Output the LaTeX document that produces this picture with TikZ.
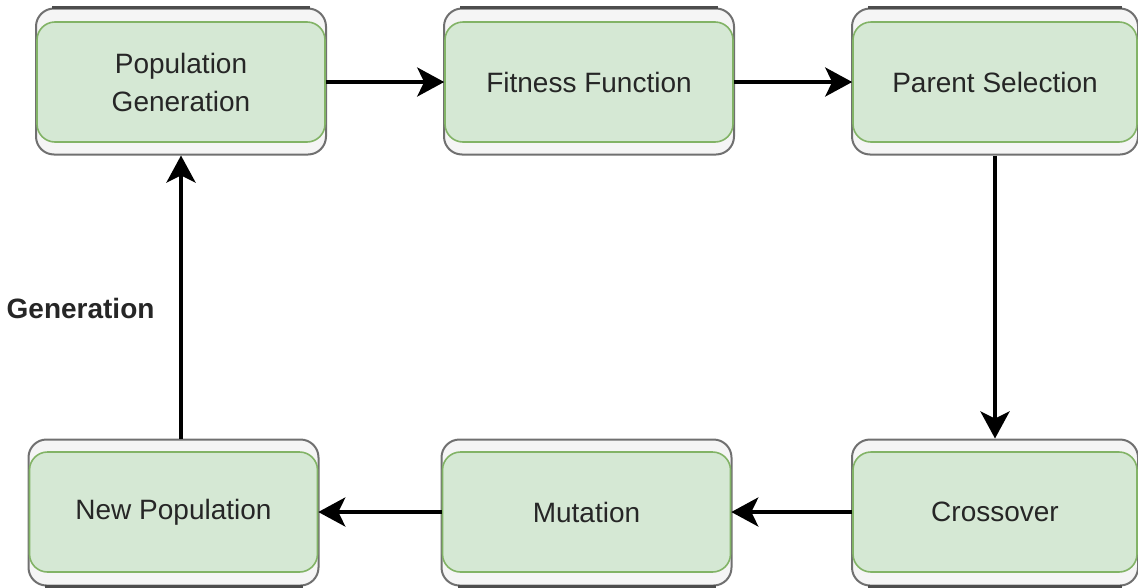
\documentclass[tikz,border=0pt]{standalone}
\usepackage{fontspec}
\setmainfont{Liberation Sans}
\usepackage{tikz}
\usetikzlibrary{arrows.meta,positioning}
\usepackage{xcolor}
\definecolor{cardgreen}{HTML}{D5E8D4}
\definecolor{cardgreenline}{HTML}{82B366}
\definecolor{backgray}{HTML}{F5F5F5}
\definecolor{backline}{HTML}{707070}
\definecolor{rimdark}{HTML}{4D4D4D}
\definecolor{textdark}{HTML}{262626}

\begin{document}
\begin{tikzpicture}[
  x=1pt, y=-1pt,
  >={Stealth[length=27pt,width=29pt,inset=7pt]},
  backcard/.style={
    draw=backline,
    fill=backgray,
    rounded corners=18pt,
    line width=2pt,
    inner sep=0pt,
    minimum width=290pt,
    minimum height=146pt
  },
  stagecard/.style={
    draw=cardgreenline,
    fill=cardgreen,
    rounded corners=18pt,
    line width=1.6pt,
    inner sep=0pt,
    minimum width=288pt,
    minimum height=120pt,
    align=center,
    text=textdark,
    font=\fontsize{28}{38}\selectfont
  },
  flowline/.style={->, line width=4pt, black},
  rimline/.style={line width=3pt, rimdark}
]

  \useasboundingbox (0,0) rectangle (1138,587);

  % Top Row: back plates
  \node[backcard] (popback) at (181,81.5) {};
  \node[backcard] (fitback) at (589,81.5) {};
  \node[backcard, minimum width=286pt] (parback) at (995,81.5) {};

  % Bottom Row: back plates
  \node[backcard] (newback) at (173.5,512.5) {};
  \node[backcard] (mutback) at (586.5,512.5) {};
  \node[backcard, minimum width=286pt] (crossback) at (995,512.5) {};

  % Dark rims on the outer edges
  \foreach \b in {popback,fitback,parback}
    \draw[rimline] ([xshift=17pt]\b.north west) -- ([xshift=-17pt]\b.north east);
  \foreach \b in {newback,mutback,crossback}
    \draw[rimline] ([xshift=17pt]\b.south west) -- ([xshift=-17pt]\b.south east);

  % Top Row: stages
  \node[stagecard] (popgen) at (181,82) {Population\\Generation};
  \node[stagecard] (fitness) at (589,82) {Fitness Function};
  \node[stagecard, minimum width=284pt] (parent) at (995,82) {Parent Selection};

  % Bottom Row: stages
  \node[stagecard] (newpop) at (173.5,512) {New Population};
  \node[stagecard] (mutation) at (586.5,512) {Mutation};
  \node[stagecard, minimum width=284pt] (crossover) at (995,512) {Crossover};

  % Loop label
  \node[anchor=east, font=\fontsize{28}{34}\selectfont\bfseries, text=textdark] (genlabel) at (158,308) {Generation};

  % Connecting Arrows around the loop
  \draw[flowline] (popgen.east) -- (fitness.west);
  \draw[flowline] (fitness.east) -- (parent.west);
  \draw[flowline] (parback.south) -- (crossback.north);
  \draw[flowline] (crossover.west) -- (mutation.east);
  \draw[flowline] (mutation.west) -- (newpop.east);
  \draw[flowline] (popback.south |- newback.north) -- (popback.south);

\end{tikzpicture}
\end{document}
